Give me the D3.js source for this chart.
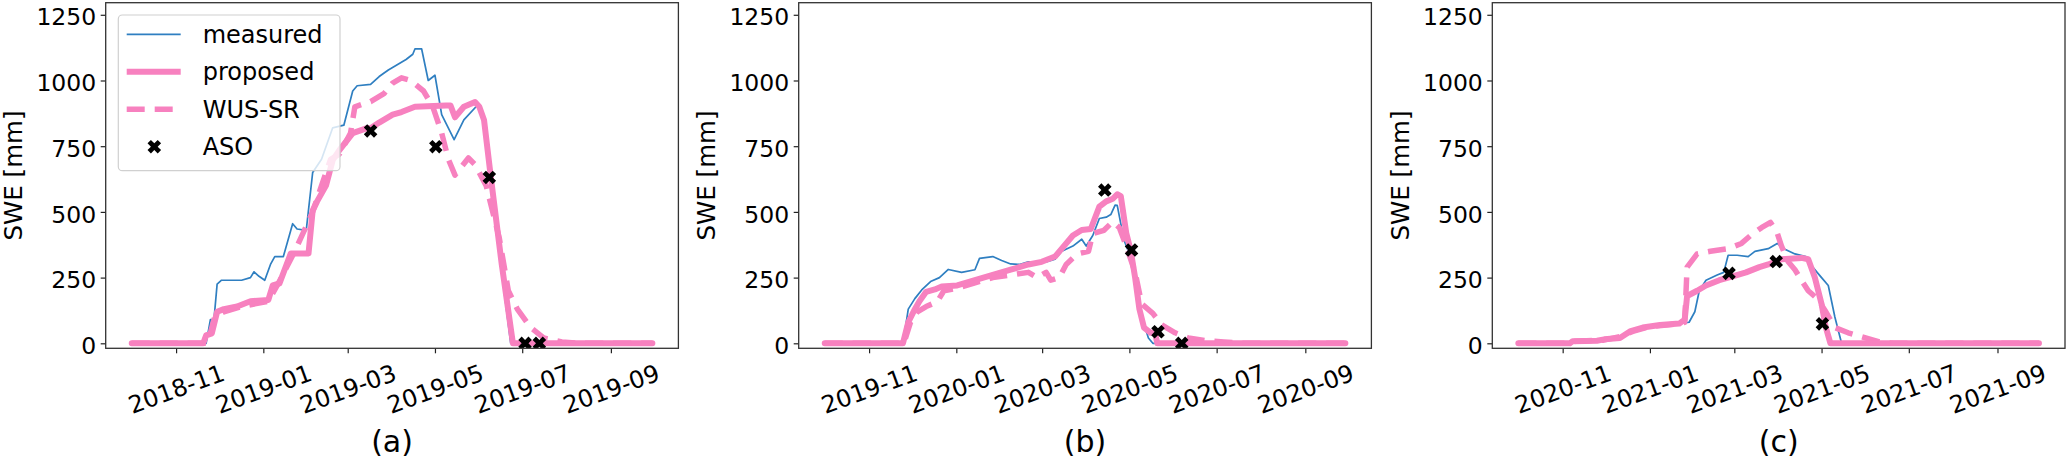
<!DOCTYPE html>
<html>
<head>
<meta charset="utf-8">
<script src="https://cdn.jsdelivr.net/npm/d3@7"></script>
<style>
  html, body { margin: 0; padding: 0; background: #fff; }
  svg { display: block; font-family: "DejaVu Sans", sans-serif; }
</style>
</head>
<body>
<svg id="chart" width="2067" height="460"></svg>
<script>
// water year start of each panel, series are [day since start, SWE mm]
var waterYears = ['2018-10-01', '2019-10-01', '2020-10-01'];
var captions = ['(a)', '(b)', '(c)'];
var yTicks = [0, 250, 500, 750, 1000, 1250];
var seriesNames = ['measured', 'proposed', 'WUS-SR', 'ASO'];

var measuredA = [[0,0],[52,0],[54,60],[55,90],[57.5,90],[59.7,225],[62.8,240],[76.8,240],[83,250],[85.5,272],[89,255],[93,240],[97,300],[100,330],[106,330],[112.5,455],[115.6,435],[122,430],[126.5,650],[132.7,700],[140.5,820],[148.3,830],[154.5,960],[157.6,980],[167,985],[173,1015],[179.4,1040],[185.6,1060],[191.8,1080],[196.5,1100],[198,1120],[202.7,1120],[207.3,1000],[212,1020],[216.7,870],[225.4,775],[232.2,850],[241.5,905],[245,870],[250,650],[258,300],[265,0],[364,0]];
var proposedA = [[0,0],[50,0],[52,30],[56,38],[59.7,120],[64.4,130],[73.7,140],[83,160],[95.5,165],[98.6,220],[103.3,228],[111.2,342],[123.6,342],[126.5,505],[129.6,540],[135.8,600],[140.5,697],[145.2,735],[154.5,800],[164,818],[167,818],[173,840],[182.4,870],[188.6,880],[198,900],[219.8,905],[222.9,905],[226,860],[232.2,900],[240,918],[243,900],[246.3,850],[251,635],[258.7,300],[266.5,0],[364,0]];
var wusA = [[0,0],[53,0],[58,100],[64.4,120],[76.8,140],[95.5,160],[101.7,220],[114,350],[126.5,500],[132.7,600],[139,700],[145.2,720],[153,800],[156,900],[167,920],[176.3,950],[182.4,990],[188.6,1010],[195,1000],[204,960],[210.5,900],[216.7,800],[221.4,700],[226,640],[235.4,705],[240,680],[247.8,600],[257,400],[263.3,200],[269.6,130],[279,60],[288.2,20],[300.7,5],[313,0],[364,0]];
var asoA = [[167,808],[212.6,748],[250,631],[275,0],[285,0]];

var measuredB = [[0,0],[54.7,0],[58.4,130],[63,170],[67.8,203],[74,235],[80.2,250],[86.4,281],[95.7,270],[105,280],[108.2,323],[117.5,330],[123.7,315],[130,302],[136,300],[142.4,310],[154.8,310],[161,320],[165.7,350],[173.5,370],[179.7,396],[182.8,370],[187.4,410],[192,475],[196.8,480],[200,490],[203,526],[204.5,525],[209.2,393],[212.3,350],[217,253],[221.6,100],[226.3,20],[229.4,0],[364,0]];
var proposedB = [[0,0],[54.7,0],[58.4,80],[63,130],[66.2,160],[70.9,196],[77,205],[81.8,216],[92.6,220],[105,240],[117.5,260],[130,280],[142.4,300],[151.7,310],[161,330],[167.2,370],[173.5,410],[179.7,431],[186,435],[192,520],[196.8,540],[201.4,550],[204.5,567],[207,560],[210.8,420],[214,350],[217,250],[220,130],[223.2,60],[227.9,40],[231,40],[232.5,0],[364,0]];
var wusB = [[0,0],[55.3,0],[60,80],[64.7,120],[70.9,140],[78.6,158],[83.3,200],[92.6,210],[105,230],[117.5,250],[130,260],[142.4,270],[148.6,250],[154.8,270],[158,240],[164,250],[168.8,300],[176.6,340],[184.4,350],[187.4,418],[195.2,430],[201.4,463],[206,440],[210.8,370],[217,270],[221.6,150],[229.4,114],[235.6,70],[245,40],[254.3,20],[266.7,10],[279,5],[294,0],[364,0]];
var asoB = [[195.8,583],[214.5,355],[233,44],[249.6,0]];

var measuredC = [[0,0],[36,0],[40,12],[55,15],[70,20],[80,40],[87,55],[99,70],[112.5,75],[119.4,80],[123.4,120],[126.5,200],[131.2,240],[139,260],[143.6,270],[146.7,335],[153,335],[160.7,330],[165.4,350],[174.7,360],[181,380],[185.6,360],[193.4,340],[201,330],[205.8,290],[212,250],[216.7,220],[221.3,100],[226,0],[364,0]];
var proposedC = [[0,0],[36,0],[38,8],[55,10],[60,15],[71,20],[78,45],[87,60],[99,70],[112.5,75],[116.3,90],[118,180],[125,200],[131.2,220],[140.5,240],[149.8,255],[159.2,270],[168.5,290],[174.7,300],[184,320],[198,325],[202.7,320],[207.3,250],[212,150],[215,60],[218.2,0],[364,0]];
var wusC = [[0,0],[36,0],[40,8],[59.7,12],[71,25],[80,45],[90.8,62],[100,68],[112.5,75],[116.3,80],[118,290],[125,340],[134.3,350],[146.7,360],[156,380],[162.3,410],[170,440],[176.3,460],[181,420],[184,370],[188.7,310],[193.4,280],[198,240],[202.7,200],[209,170],[215,120],[221.3,60],[230.6,40],[240,25],[252.4,5],[262,0],[364,0]];
var asoC = [[147.3,266],[180.3,311],[212.6,74]];

var panels = [
  {measured: measuredA, proposed: proposedA, wus: wusA, aso: asoA},
  {measured: measuredB, proposed: proposedB, wus: wusB, aso: asoB},
  {measured: measuredC, proposed: proposedC, wus: wusC, aso: asoC}
];

var PINK = '#f781bf', BLUE = '#2f7fc1';
var panelLeft = [105.7, 798.7, 1492.3], panelWidth = 572.7;
var plotTop = 2.7, plotBottom = 348.3;

var svg = d3.select('#chart');
var dayMs = 864e5;

var y = d3.scaleLinear().domain([-19, 1296]).range([plotBottom, plotTop]);

var xFmt = d3.utcFormat('%Y-%m');

// filled X marker, same shape as matplotlib 'X'
var xMarker = d3.symbol().type(d3.symbolCross).size(115);

panels.forEach(function(p, i) {
  var start = new Date(waterYears[i] + 'T00:00:00Z');
  var toDate = function(d) { return new Date(start.getTime() + d[0] * dayMs); };
  var all = p.measured.concat(p.proposed, p.wus);
  var ext = d3.extent(all, toDate);
  var pad = (ext[1] - ext[0]) * 0.05;
  var left = panelLeft[i];

  var x = d3.scaleUtc()
    .domain([new Date(+ext[0] - pad), new Date(+ext[1] + pad)])
    .range([left, left + panelWidth]);

  var g = svg.append('g').attr('class', 'panel');

  var clipId = 'clip' + i;
  g.append('clipPath').attr('id', clipId).append('rect')
    .attr('x', left).attr('y', plotTop).attr('width', panelWidth).attr('height', plotBottom - plotTop);

  var line = d3.line()
    .x(function(d) { return x(toDate(d)); })
    .y(function(d) { return y(d[1]); });

  var plot = g.append('g').attr('clip-path', 'url(#' + clipId + ')');

  plot.append('path').datum(p.measured)
    .attr('d', line).attr('fill', 'none')
    .attr('stroke', BLUE).attr('stroke-width', 1.7).attr('stroke-linejoin', 'round');

  plot.append('path').datum(p.proposed)
    .attr('d', line).attr('fill', 'none')
    .attr('stroke', PINK).attr('stroke-width', 6).attr('stroke-linejoin', 'round')
    .attr('stroke-linecap', 'round');

  plot.append('path').datum(p.wus)
    .attr('d', line).attr('fill', 'none')
    .attr('stroke', PINK).attr('stroke-width', 5.5).attr('stroke-dasharray', '18,10')
    .attr('stroke-linejoin', 'round');

  plot.selectAll('path.aso').data(p.aso).enter().append('path')
    .attr('class', 'aso')
    .attr('d', xMarker)
    .attr('fill', '#000')
    .attr('transform', function(d) {
      return 'translate(' + x(toDate(d)) + ',' + y(d[1]) + ') rotate(45)';
    });

  // axes
  var yAxis = g.append('g').attr('transform', 'translate(' + left + ',0)')
    .call(d3.axisLeft(y).tickValues(yTicks).tickFormat(d3.format('d')).tickSize(5).tickPadding(4.5));
  yAxis.select('.domain').remove();
  yAxis.selectAll('.tick line').attr('stroke', '#222').attr('stroke-width', 1.2);
  yAxis.selectAll('.tick text')
    .attr('font-size', 23.5).attr('fill', '#000').attr('font-family', 'DejaVu Sans')
    .attr('dy', '0.43em');

  var xAxis = g.append('g').attr('transform', 'translate(0,' + plotBottom + ')')
    .call(d3.axisBottom(x).ticks(d3.utcMonth.every(2)).tickFormat(xFmt).tickSize(5));
  xAxis.select('.domain').remove();
  xAxis.selectAll('.tick line').attr('stroke', '#222').attr('stroke-width', 1.2);
  xAxis.selectAll('.tick text')
    .attr('font-size', 24).attr('fill', '#000').attr('font-family', 'DejaVu Sans')
    .attr('y', 0).attr('dy', 0)
    .attr('dominant-baseline', 'central')
    .attr('transform', 'translate(0,41) rotate(-20)');

  g.append('rect')
    .attr('x', left).attr('y', plotTop).attr('width', panelWidth).attr('height', plotBottom - plotTop)
    .attr('fill', 'none').attr('stroke', '#333').attr('stroke-width', 1.3);

  g.append('text')
    .attr('transform', 'translate(' + (left - 92) + ',' + ((plotTop + plotBottom) / 2) + ') rotate(-90)')
    .attr('text-anchor', 'middle').attr('dominant-baseline', 'central')
    .attr('font-size', 24.5).text('SWE [mm]');

  g.append('text')
    .attr('x', left + panelWidth / 2).attr('y', 452)
    .attr('text-anchor', 'middle').attr('font-size', 30).text(captions[i]);

  if (i === 0) {
    var lg = g.append('g').attr('class', 'legend');
    lg.append('rect')
      .attr('x', 118.3).attr('y', 15).attr('width', 221.7).attr('height', 155.7)
      .attr('rx', 4).attr('fill', '#fff').attr('fill-opacity', 0.8)
      .attr('stroke', '#d0d0d0').attr('stroke-width', 1.2);
    var rowY = d3.scalePoint().domain(seriesNames).range([34.3, 146.7]);
    var styles = {
      'measured': {stroke: BLUE, w: 1.7, dash: null},
      'proposed': {stroke: PINK, w: 6, dash: null},
      'WUS-SR': {stroke: PINK, w: 5.5, dash: '18,10'}
    };
    seriesNames.forEach(function(name) {
      var yy = rowY(name);
      if (name === 'ASO') {
        lg.append('path').attr('d', xMarker).attr('fill', '#000')
          .attr('transform', 'translate(154.3,' + yy + ') rotate(45)');
      } else {
        var s = styles[name];
        lg.append('line').attr('x1', 126.7).attr('x2', 180.7).attr('y1', yy).attr('y2', yy)
          .attr('stroke', s.stroke).attr('stroke-width', s.w)
          .attr('stroke-dasharray', s.dash);
      }
      lg.append('text').attr('x', 202.7).attr('y', yy).attr('dy', '0.36em')
        .attr('font-size', 24).text(name);
    });
  }
});
</script>
</body>
</html>
